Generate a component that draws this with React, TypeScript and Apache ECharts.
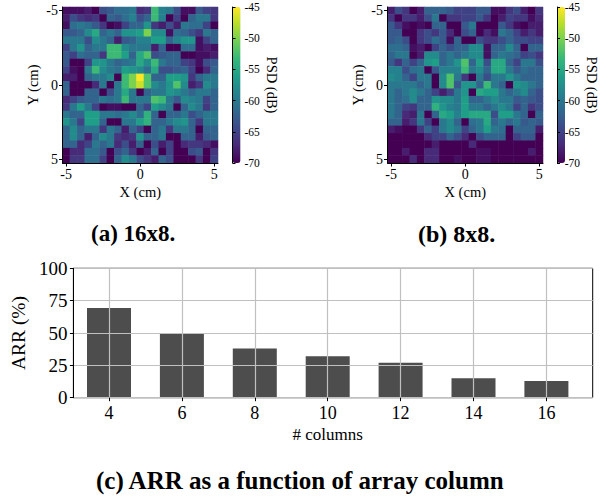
import React, { useEffect, useRef } from "react";
import * as echarts from "echarts";

const positions = [-5, -4.5, -4, -3.5, -3, -2.5, -2, -1.5, -1, -0.5, 0, 0.5, 1, 1.5, 2, 2.5, 3, 3.5, 4, 4.5, 5].map(String);
const shownTicks = ["-5", "0", "5"];
const viridis = ["#440154", "#482878", "#3e4989", "#31688e", "#26828e", "#1f9e89", "#35b779", "#6ece58", "#b5de2b", "#fde725"];

const psdA = [
  [-69,-69,-69,-68,-70,-64,-63,-61,-61,-60,-67,-66,-53,-59,-60,-64,-69,-69,-63,-65,-66],
  [-68,-64,-66,-67,-66,-70,-62,-63,-61,-59,-64,-62,-53,-59,-70,-65,-70,-62,-60,-60,-66],
  [-69,-61,-60,-61,-63,-66,-70,-69,-65,-62,-62,-57,-66,-68,-64,-68,-60,-61,-61,-65,-70],
  [-63,-63,-62,-58,-55,-62,-60,-62,-57,-57,-56,-50,-58,-58,-69,-61,-62,-64,-66,-60,-62],
  [-60,-60,-60,-64,-58,-60,-62,-68,-63,-62,-59,-59,-56,-56,-62,-59,-57,-57,-69,-65,-62],
  [-65,-60,-57,-62,-60,-60,-53,-53,-58,-60,-60,-60,-68,-62,-70,-70,-61,-61,-69,-68,-69],
  [-63,-65,-61,-62,-62,-66,-53,-53,-56,-62,-55,-52,-64,-63,-62,-62,-70,-70,-69,-69,-68],
  [-63,-70,-70,-65,-57,-57,-60,-62,-61,-60,-55,-58,-53,-60,-62,-62,-65,-66,-69,-64,-63],
  [-65,-69,-70,-60,-53,-58,-60,-61,-56,-57,-58,-61,-55,-64,-64,-63,-62,-65,-70,-67,-62],
  [-68,-68,-70,-62,-60,-60,-58,-70,-53,-50,-45,-52,-62,-62,-56,-56,-57,-66,-62,-60,-60],
  [-62,-70,-70,-70,-67,-60,-70,-60,-53,-50,-47,-52,-58,-60,-57,-52,-58,-68,-66,-58,-60],
  [-62,-70,-70,-62,-62,-70,-64,-60,-55,-60,-70,-62,-60,-60,-57,-58,-60,-62,-60,-60,-62],
  [-67,-65,-63,-62,-62,-60,-61,-60,-53,-60,-60,-60,-52,-53,-60,-63,-58,-59,-60,-65,-62],
  [-66,-60,-56,-60,-65,-70,-69,-69,-70,-70,-62,-65,-56,-58,-60,-70,-62,-58,-60,-66,-62],
  [-60,-62,-62,-56,-56,-60,-60,-61,-60,-58,-61,-54,-62,-70,-62,-62,-60,-64,-62,-60,-60],
  [-57,-60,-65,-56,-56,-62,-70,-70,-60,-60,-56,-54,-62,-62,-60,-58,-57,-62,-66,-60,-60],
  [-62,-58,-62,-60,-60,-66,-60,-62,-68,-62,-65,-70,-62,-60,-66,-60,-60,-62,-70,-62,-62],
  [-62,-58,-62,-68,-62,-58,-60,-66,-67,-66,-57,-62,-62,-60,-70,-70,-62,-62,-68,-63,-62],
  [-62,-62,-67,-65,-60,-62,-60,-67,-64,-68,-62,-70,-64,-68,-65,-70,-67,-66,-66,-67,-69],
  [-70,-67,-67,-61,-61,-63,-70,-64,-62,-66,-70,-68,-62,-70,-65,-70,-70,-64,-63,-70,-66],
  [-70,-66,-66,-61,-61,-65,-70,-62,-58,-60,-64,-66,-68,-62,-64,-70,-70,-70,-66,-70,-65],
];

const psdB = [
  [-68,-64,-66,-70,-68,-62,-62,-62,-63,-65,-65,-65,-63,-63,-69,-69,-66,-64,-68,-70,-66],
  [-66,-70,-66,-66,-68,-64,-60,-70,-66,-66,-65,-65,-63,-66,-70,-68,-65,-66,-66,-69,-67],
  [-63,-66,-69,-70,-69,-70,-62,-62,-70,-70,-63,-60,-70,-70,-70,-63,-66,-69,-70,-68,-68],
  [-63,-63,-70,-70,-66,-64,-66,-63,-67,-70,-64,-62,-70,-67,-69,-60,-62,-65,-68,-66,-68],
  [-63,-62,-64,-70,-66,-64,-61,-63,-69,-62,-70,-70,-64,-66,-66,-64,-62,-64,-64,-65,-65],
  [-61,-61,-62,-69,-68,-70,-65,-62,-64,-62,-62,-58,-58,-69,-62,-62,-58,-62,-70,-62,-62],
  [-62,-60,-60,-70,-68,-58,-58,-62,-60,-62,-60,-58,-58,-69,-62,-60,-61,-62,-65,-64,-66],
  [-63,-66,-62,-65,-62,-57,-56,-62,-60,-57,-52,-62,-56,-64,-55,-55,-62,-65,-60,-60,-64],
  [-59,-59,-64,-61,-60,-70,-63,-59,-59,-59,-53,-60,-58,-62,-55,-55,-60,-63,-61,-62,-62],
  [-58,-59,-62,-65,-60,-60,-70,-58,-52,-60,-66,-70,-60,-64,-60,-60,-57,-60,-62,-62,-62],
  [-60,-60,-60,-60,-62,-60,-70,-58,-52,-63,-57,-57,-62,-53,-60,-62,-70,-57,-58,-60,-62],
  [-60,-62,-60,-58,-60,-62,-65,-68,-65,-60,-57,-70,-55,-56,-56,-60,-62,-60,-58,-62,-64],
  [-60,-62,-61,-58,-62,-62,-57,-58,-58,-60,-56,-62,-62,-60,-58,-60,-60,-63,-62,-63,-64],
  [-60,-62,-65,-66,-62,-62,-54,-57,-59,-60,-56,-60,-60,-62,-60,-58,-60,-65,-62,-66,-64],
  [-60,-62,-67,-68,-60,-70,-62,-55,-56,-59,-56,-55,-55,-55,-64,-56,-56,-60,-62,-70,-62],
  [-62,-62,-68,-66,-60,-65,-70,-60,-58,-62,-70,-61,-60,-55,-62,-60,-62,-60,-63,-62,-63],
  [-68,-69,-70,-70,-66,-62,-65,-60,-58,-60,-65,-62,-60,-56,-60,-61,-70,-62,-62,-62,-68],
  [-70,-70,-70,-70,-70,-67,-65,-65,-62,-64,-67,-70,-64,-62,-62,-62,-70,-65,-63,-63,-70],
  [-70,-70,-70,-70,-70,-70,-68,-70,-70,-70,-70,-67,-70,-70,-70,-70,-70,-70,-70,-70,-70],
  [-70,-70,-68,-70,-70,-67,-67,-70,-70,-70,-70,-70,-69,-69,-70,-70,-70,-70,-70,-68,-70],
  [-70,-70,-70,-67,-70,-67,-67,-70,-70,-69,-70,-70,-69,-69,-70,-70,-70,-70,-70,-70,-70],
];

const colorbarTicks = { min: -70, max: -45, step: 5 };
const columns = ["4", "6", "8", "10", "12", "14", "16"];
const arr = [69.3, 50, 38, 32, 27, 15, 13];
const arrTicks = { min: 0, max: 100, step: 25 };
const captions = ["(a) 16x8.", "(b) 8x8.", "(c) ARR as a function of array column"];
const serif = "Liberation Serif";

function cells(rows: number[][]) {
  const out: number[][] = [];
  rows.forEach((row, y) => row.forEach((v, x) => out.push([x, y, v])));
  return out;
}

function heatAxis(name: string, size: number, gap: number, inverse = false) {
  return {
    type: "category",
    data: positions,
    inverse,
    name,
    nameLocation: "middle",
    nameGap: gap,
    nameTextStyle: { fontFamily: serif, fontSize: size, color: "#000" },
    axisLine: { show: true, lineStyle: { color: "#000", width: 1 } },
    axisTick: {
      show: true,
      alignWithLabel: true,
      length: 3.5,
      lineStyle: { color: "#000", width: 1 },
      interval: (_: number, v: string) => shownTicks.includes(v),
    },
    axisLabel: {
      show: true,
      fontFamily: serif,
      fontSize: 14,
      color: "#000",
      margin: 4.5,
      interval: (_: number, v: string) => shownTicks.includes(v),
    },
    splitLine: { show: false },
  };
}

export default function App() {
  const ref = useRef<HTMLDivElement>(null);
  useEffect(() => {
    const chart = echarts.init(ref.current!, undefined, { renderer: "svg" });
    const panels = [
      { left: 62.5, width: 155.5, barLeft: 232.5, data: psdA, yName: "Y (cm)", psdGap: 24 },
      { left: 387.5, width: 155.5, barLeft: 557, data: psdB, yName: "Y (cm)", psdGap: 20 },
    ];
    const grids: any[] = [];
    const xAxes: any[] = [];
    const yAxes: any[] = [];
    const series: any[] = [];
    const visualMaps: any[] = [];
    panels.forEach((p) => {
      const hg = grids.length;
      grids.push({ left: p.left, top: 7, width: p.width, height: 156, containLabel: false });
      xAxes.push({ ...heatAxis("X (cm)", 14.5, 21), gridIndex: hg, z: 5 });
      yAxes.push({ ...heatAxis(p.yName, 14.5, 22, true), gridIndex: hg, z: 5 });
      const sIdx = series.length;
      series.push({
        type: "heatmap",
        coordinateSystem: "cartesian2d",
        xAxisIndex: hg,
        yAxisIndex: hg,
        data: cells(p.data),
        progressive: 0,
        itemStyle: { borderWidth: 0 },
      });
      visualMaps.push({
        type: "continuous",
        seriesIndex: sIdx,
        min: colorbarTicks.min,
        max: colorbarTicks.max,
        dimension: 2,
        calculable: false,
        realtime: false,
        left: p.barLeft,
        top: 7,
        itemWidth: 8,
        itemHeight: 156,
        padding: 0,
        text: ["", ""],
        textGap: 0,
        inRange: { color: viridis },
      });
      const bg = grids.length;
      grids.push({ left: p.barLeft, top: 7, width: 8, height: 156, z: 10 });
      xAxes.push({ type: "value", gridIndex: bg, show: false, min: 0, max: 1 });
      yAxes.push({
        type: "value",
        gridIndex: bg,
        position: "right",
        min: colorbarTicks.min,
        max: colorbarTicks.max,
        interval: colorbarTicks.step,
        name: "PSD (dB)",
        nameLocation: "middle",
        nameRotate: -90,
        nameGap: p.psdGap,
        nameTextStyle: { fontFamily: serif, fontSize: 14.5, color: "#000" },
        axisLine: { show: true, lineStyle: { color: "#000", width: 1 } },
        axisTick: { show: true, length: 3, lineStyle: { color: "#000", width: 1 } },
        axisLabel: {
          show: true,
          fontFamily: serif,
          fontSize: 11.5,
          color: "#000",
          margin: 4,
          showMinLabel: true,
          showMaxLabel: true,
        },
        splitLine: { show: false },
        z: 10,
      });
    });

    // Outer frame: carries the y axis, the full-width horizontal grid lines and the border.
    const frameIdx = grids.length;
    grids.push({
      left: 62.7,
      top: 268.3,
      width: 530,
      height: 129.4,
      show: true,
      borderColor: "#000",
      borderWidth: 1,
      backgroundColor: "transparent",
    });
    xAxes.push({ type: "value", gridIndex: frameIdx, show: false, min: 0, max: 1 });
    yAxes.push({
      type: "value",
      gridIndex: frameIdx,
      min: arrTicks.min,
      max: arrTicks.max,
      interval: arrTicks.step,
      name: "ARR (%)",
      nameLocation: "middle",
      nameGap: 38,
      nameTextStyle: { fontFamily: serif, fontSize: 19.5, color: "#000" },
      axisLine: { show: true, lineStyle: { color: "#000", width: 1 } },
      axisTick: { show: true, length: 3.5, lineStyle: { color: "#000" } },
      axisLabel: { show: true, fontFamily: serif, fontSize: 19, color: "#000", margin: 6 },
      splitLine: { show: true, lineStyle: { color: "#c0c0c0", width: 1.2 } },
      z: 4,
    });
    // Inner band area: the matplotlib margin leaves it narrower than the frame.
    const barIdx = grids.length;
    grids.push({ left: 72.55, top: 268.3, width: 510.3, height: 129.4 });
    xAxes.push({
      type: "category",
      gridIndex: barIdx,
      data: columns,
      name: "# columns",
      nameLocation: "middle",
      nameGap: 28,
      nameTextStyle: { fontFamily: serif, fontSize: 17, color: "#000" },
      axisLine: { show: false },
      axisTick: { show: true, alignWithLabel: true, interval: 0, length: 3.5, lineStyle: { color: "#000" } },
      axisLabel: { show: true, interval: 0, fontFamily: serif, fontSize: 18, color: "#000", margin: 6 },
      splitLine: { show: true, alignWithLabel: true, interval: 0, lineStyle: { color: "#c0c0c0", width: 1.2 } },
      z: 4,
    });
    yAxes.push({ type: "value", gridIndex: barIdx, show: false, min: arrTicks.min, max: arrTicks.max });
    series.push({
      type: "bar",
      xAxisIndex: barIdx,
      yAxisIndex: barIdx,
      barWidth: 44,
      data: arr,
      itemStyle: { color: "#4d4d4d" },
    });

    chart.setOption({
      animation: false,
      grid: grids,
      xAxis: xAxes,
      yAxis: yAxes,
      series,
      visualMap: visualMaps,
      title: [
        { text: captions[0], left: 91, top: 222, size: 23 },
        { text: captions[1], left: 418, top: 222, size: 24 },
        { text: captions[2], left: 96, top: 468, size: 25 },
      ].map((t) => ({
        text: t.text,
        left: t.left,
        top: t.top,
        padding: 0,
        textStyle: { fontFamily: serif, fontSize: t.size, fontWeight: "bold", color: "#000" },
      })),
    });
    return () => chart.dispose();
  }, []);
  return <div ref={ref} style={{ width: 600, height: 497, position: "absolute", left: 0, top: 0 }} />;
}
